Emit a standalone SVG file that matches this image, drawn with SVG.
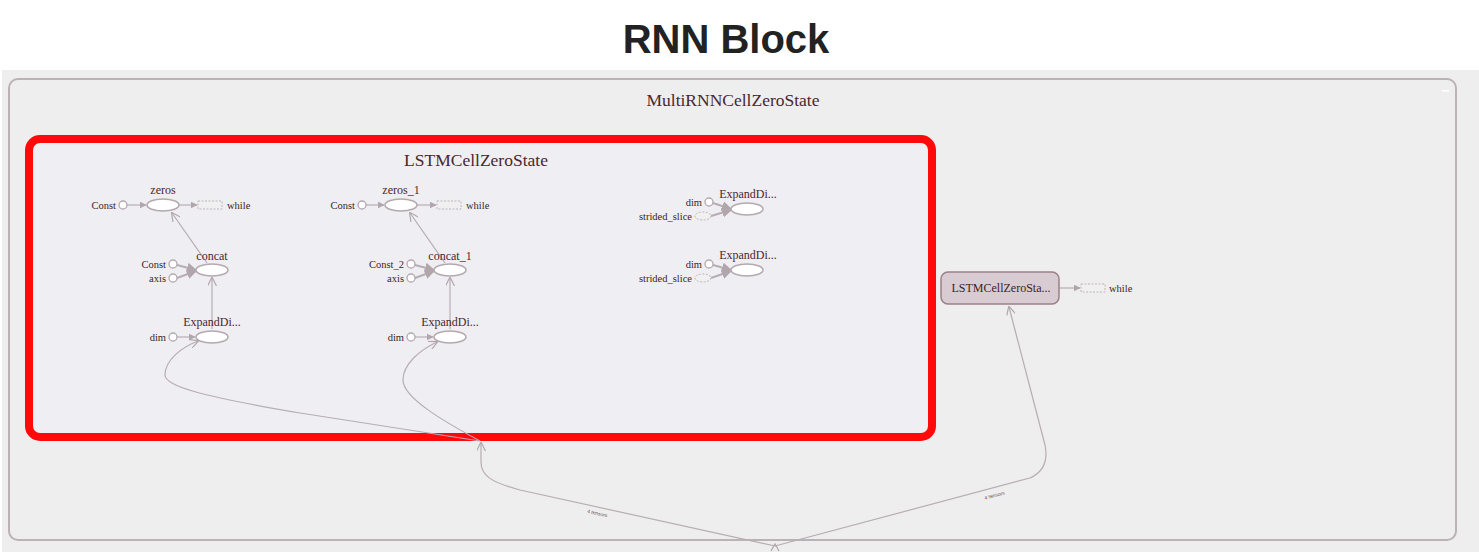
<svg xmlns="http://www.w3.org/2000/svg" width="1479" height="552" viewBox="0 0 1479 552">
<style>
.lbl{font-family:"Liberation Serif",serif;font-size:10.5px;fill:#3a1f25}
.nl{font-family:"Liberation Serif",serif;font-size:12px;fill:#4a262e;text-anchor:middle}
.r{text-anchor:end}
.op{fill:#ffffff;stroke:#b3a9ae;stroke-width:1.5}
.cst{fill:#ffffff;stroke:#b3a9ae;stroke-width:1.3}
.dsh{fill:#f0f0f0;stroke:#bdb5b9;stroke-width:1;stroke-dasharray:2,1.5}
.e{fill:none;stroke:#b7adb2;stroke-width:1.2}
.et{fill:none;stroke:#b7adb2;stroke-width:2}
.el{font-family:"Liberation Sans",sans-serif;font-size:5px;fill:#6a4a52}
</style>
<defs>
<marker id="ah" viewBox="0 0 10 10" refX="9" refY="5" markerWidth="7" markerHeight="7" orient="auto" markerUnits="userSpaceOnUse">
<path d="M0,0 L10,5 L0,10 z" fill="#b0a6ab"/>
</marker>
<marker id="ahb" viewBox="0 0 10 10" refX="9" refY="5" markerWidth="10" markerHeight="10" orient="auto" markerUnits="userSpaceOnUse">
<path d="M0,0 L10,5 L0,10 z" fill="#b0a6ab"/>
</marker>
<marker id="ao" viewBox="0 0 10 10" refX="9" refY="5" markerWidth="9" markerHeight="9" orient="auto" markerUnits="userSpaceOnUse">
<path d="M0,0 L10,5 L0,10" fill="none" stroke="#b0a6ab" stroke-width="1.3"/>
</marker>
</defs>
<rect x="0" y="0" width="1479" height="552" fill="#ffffff"/>
<rect x="2" y="70" width="1477" height="482" fill="#eeeeee"/>
<text x="726" y="53" font-family="Liberation Sans,sans-serif" font-size="40" font-weight="bold" fill="#222" text-anchor="middle">RNN Block</text>

<g id="MultiRNNCellZeroState">
<rect x="9" y="79" width="1447" height="461" rx="9" fill="#eeeeee" stroke="#bab2b6" stroke-width="2"/>
<text x="733" y="106" font-family="Liberation Serif,serif" font-size="17.5" fill="#4a262e" text-anchor="middle">MultiRNNCellZeroState</text>
<rect x="1442" y="90" width="7" height="1.5" fill="#ffffff"/>
</g>

<g id="LSTMCellZeroState_group">
<rect x="29" y="139" width="903" height="298" rx="11" fill="#efeef3" stroke="#ff0a0a" stroke-width="8"/>
<text x="476" y="166" font-family="Liberation Serif,serif" font-size="17.5" fill="#4a262e" text-anchor="middle">LSTMCellZeroState</text>
</g>

<g id="connectors">
<line class="e" x1="127" y1="205" x2="146" y2="205" marker-end="url(#ah)"/>
<line class="e" x1="179" y1="205" x2="197" y2="205" marker-end="url(#ah)"/>
<line class="e" x1="207" y1="263" x2="172" y2="213" marker-end="url(#ao)"/>
<line class="et" x1="177" y1="265" x2="196" y2="270" marker-end="url(#ahb)"/>
<line class="et" x1="177" y1="278" x2="196" y2="271" marker-end="url(#ahb)"/>
<line class="e" x1="212" y1="329" x2="212" y2="278" marker-end="url(#ao)"/>
<line class="e" x1="177" y1="337" x2="195" y2="337" marker-end="url(#ah)"/>
<line class="e" x1="366" y1="205" x2="384" y2="205" marker-end="url(#ah)"/>
<line class="e" x1="417" y1="205" x2="436" y2="205" marker-end="url(#ah)"/>
<line class="e" x1="445" y1="263" x2="410" y2="213" marker-end="url(#ao)"/>
<line class="et" x1="415" y1="265" x2="434" y2="270" marker-end="url(#ahb)"/>
<line class="et" x1="415" y1="278" x2="434" y2="271" marker-end="url(#ahb)"/>
<line class="e" x1="450" y1="329" x2="450" y2="278" marker-end="url(#ao)"/>
<line class="e" x1="415" y1="337" x2="433" y2="337" marker-end="url(#ah)"/>
<line class="et" x1="713" y1="203" x2="731" y2="209" marker-end="url(#ahb)"/>
<line class="et" x1="711" y1="216" x2="731" y2="210" marker-end="url(#ahb)"/>
<line class="et" x1="713" y1="265" x2="731" y2="270" marker-end="url(#ahb)"/>
<line class="et" x1="711" y1="278" x2="731" y2="271" marker-end="url(#ahb)"/>
<line class="e" x1="1059" y1="288" x2="1080" y2="288" marker-end="url(#ah)"/>
<path class="e" d="M480,441 L300,413 C200,396 165,386 165,375 C165,360 182,347 198,341" marker-end="url(#ao)"/>
<path class="e" d="M480,441 C445,422 403,398 403,380 C403,364 420,350 437,342" marker-end="url(#ao)"/>
<path class="e" d="M775,546 L520,490 C490,482 481,475 481,462 L481,443" marker-end="url(#ao)"/>
<path class="e" d="M775,546 L1030,478 C1048,470 1047,455 1045,445 L1009,307" marker-end="url(#ao)"/>
<path d="M771,551 L775,544 L779,551" fill="none" stroke="#b0a6ab" stroke-width="1.2"/>
<text class="el" transform="translate(597,515) rotate(12.5)" text-anchor="middle">4 tensors</text>
<text class="el" transform="translate(995,497) rotate(-15)" text-anchor="middle">4 tensors</text>
</g>

<g id="zeros">
<ellipse class="op" cx="163" cy="205" rx="16" ry="6"/>
<text class="nl" x="163" y="194">zeros</text>
</g>
<g id="zeros_Const">
<circle class="cst" cx="123" cy="205" r="4"/>
<text class="lbl r" x="116" y="208.5">Const</text>
</g>
<g id="zeros_while">
<rect class="dsh" x="198" y="201" width="24" height="8"/>
<text class="lbl" x="227" y="208.5">while</text>
</g>
<g id="concat">
<ellipse class="op" cx="212" cy="270" rx="16" ry="6"/>
<text class="nl" x="212" y="260">concat</text>
</g>
<g id="concat_Const">
<circle class="cst" cx="173" cy="264" r="4"/>
<text class="lbl r" x="166" y="267.5">Const</text>
</g>
<g id="concat_axis">
<circle class="cst" cx="173" cy="278" r="4"/>
<text class="lbl r" x="166" y="281.5">axis</text>
</g>
<g id="ExpandDims">
<ellipse class="op" cx="212" cy="337" rx="16" ry="6"/>
<text class="nl" x="212" y="326">ExpandDi...</text>
</g>
<g id="ExpandDims_dim">
<circle class="cst" cx="173" cy="337" r="4"/>
<text class="lbl r" x="166" y="340.5">dim</text>
</g>

<g id="zeros_1">
<ellipse class="op" cx="401" cy="205" rx="16" ry="6"/>
<text class="nl" x="401" y="194">zeros_1</text>
</g>
<g id="zeros_1_Const">
<circle class="cst" cx="362" cy="205" r="4"/>
<text class="lbl r" x="355" y="208.5">Const</text>
</g>
<g id="zeros_1_while">
<rect class="dsh" x="437" y="201" width="24" height="8"/>
<text class="lbl" x="466" y="208.5">while</text>
</g>
<g id="concat_1">
<ellipse class="op" cx="450" cy="270" rx="16" ry="6"/>
<text class="nl" x="450" y="260">concat_1</text>
</g>
<g id="concat_1_Const_2">
<circle class="cst" cx="411" cy="264" r="4"/>
<text class="lbl r" x="404" y="267.5">Const_2</text>
</g>
<g id="concat_1_axis">
<circle class="cst" cx="411" cy="278" r="4"/>
<text class="lbl r" x="404" y="281.5">axis</text>
</g>
<g id="ExpandDims_1">
<ellipse class="op" cx="450" cy="337" rx="16" ry="6"/>
<text class="nl" x="450" y="326">ExpandDi...</text>
</g>
<g id="ExpandDims_1_dim">
<circle class="cst" cx="411" cy="337" r="4"/>
<text class="lbl r" x="404" y="340.5">dim</text>
</g>

<g id="ExpandDims_2">
<ellipse class="op" cx="747" cy="209" rx="16" ry="6"/>
<text class="nl" x="748" y="198">ExpandDi...</text>
</g>
<g id="ExpandDims_2_dim">
<circle class="cst" cx="709" cy="202" r="4"/>
<text class="lbl r" x="702" y="205.5">dim</text>
</g>
<g id="ExpandDims_2_strided_slice">
<ellipse class="dsh" cx="703" cy="216" rx="8" ry="4" fill="#ffffff"/>
<text class="lbl r" x="692" y="219.5">strided_slice</text>
</g>
<g id="ExpandDims_3">
<ellipse class="op" cx="747" cy="270" rx="16" ry="6"/>
<text class="nl" x="748" y="259">ExpandDi...</text>
</g>
<g id="ExpandDims_3_dim">
<circle class="cst" cx="709" cy="264" r="4"/>
<text class="lbl r" x="702" y="267.5">dim</text>
</g>
<g id="ExpandDims_3_strided_slice">
<ellipse class="dsh" cx="703" cy="278" rx="8" ry="4" fill="#ffffff"/>
<text class="lbl r" x="692" y="281.5">strided_slice</text>
</g>

<g id="LSTMCellZeroState_1">
<rect x="941" y="272" width="118" height="32" rx="7" fill="#d9cbd2" stroke="#9c8089" stroke-width="1.5"/>
<text x="1001" y="292" font-family="Liberation Serif,serif" font-size="12" fill="#3a1f25" text-anchor="middle">LSTMCellZeroSta...</text>
</g>
<g id="LSTMCellZeroState_1_while">
<rect class="dsh" x="1081" y="284" width="24" height="8"/>
<text class="lbl" x="1109" y="291.5">while</text>
</g>
</svg>
